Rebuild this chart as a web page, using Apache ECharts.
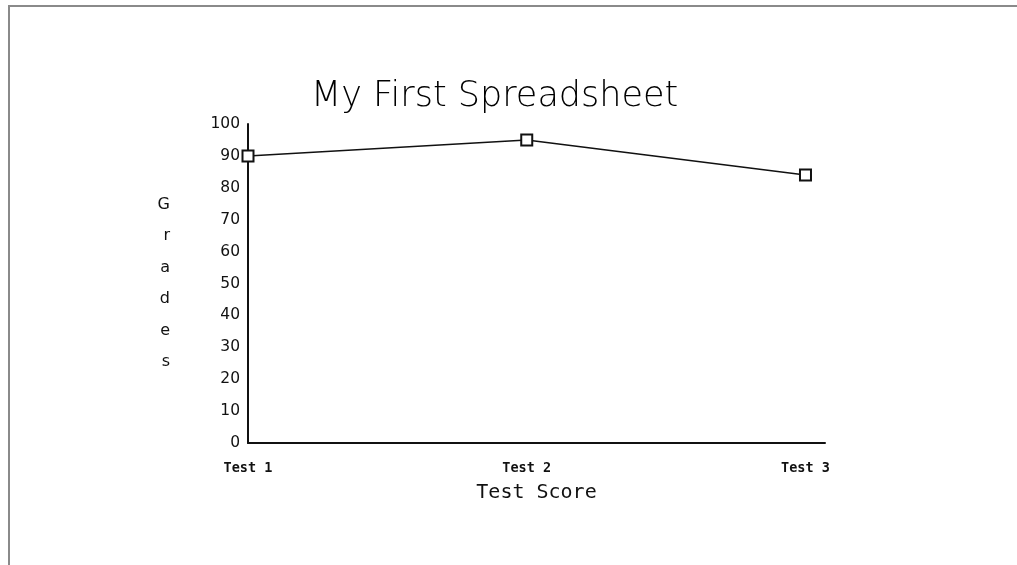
<!DOCTYPE html>
<html>
<head>
<meta charset="utf-8">
<script src="https://cdn.jsdelivr.net/npm/echarts@6/dist/echarts.min.js"></script>
<style>
  html, body { margin: 0; padding: 0; background: #fff; }
  #wrap { position: relative; width: 1017px; height: 565px; overflow: hidden; }
  #chart { position: absolute; left: 0; top: 0; width: 1017px; height: 565px; }
  #frame { position: absolute; left: 8px; top: 5px; right: -4px; bottom: -4px;
           border-top: 2px solid #8a8a8a; border-left: 2px solid #8a8a8a; pointer-events: none; }
</style>
</head>
<body>
<div id="wrap">
  <div id="chart"></div>
  <div id="frame"></div>
</div>
<script>
// Spreadsheet data
const categories = ['Test 1', 'Test 2', 'Test 3'];
const grades = [90, 95, 84];
const yTicks = [0, 10, 20, 30, 40, 50, 60, 70, 80, 90, 100];

const SANS = 'DejaVu Sans';
const MONO = 'DejaVu Sans Mono';
const points = grades.map((g, i) => [i, g]);

const chart = echarts.init(document.getElementById('chart'), null, { renderer: 'canvas' });
chart.setOption({
  animation: false,
  backgroundColor: '#ffffff',
  title: {
    text: 'My First Spreadsheet',
    left: 306,
    top: 74,
    textStyle: { fontFamily: SANS, fontSize: 35, fontWeight: 'lighter', color: '#000' }
  },
  grid: { left: 248, right: 192, top: 124, bottom: 122, containLabel: false },
  xAxis: {
    type: 'value',
    min: 0,
    max: 2.07,
    interval: 1,
    name: 'Test Score',
    nameLocation: 'middle',
    nameGap: 40,
    nameTextStyle: { fontFamily: MONO, fontSize: 20, color: '#111' },
    axisLine: { show: true, lineStyle: { color: '#111', width: 2 } },
    axisTick: { show: false },
    splitLine: { show: false },
    axisLabel: {
      margin: 18,
      fontFamily: MONO, fontSize: 13.5, fontWeight: 'bold', color: '#111',
      formatter: v => Number.isInteger(v) && categories[v] !== undefined ? categories[v] : ''
    }
  },
  yAxis: {
    type: 'value',
    min: yTicks[0],
    max: yTicks[yTicks.length - 1],
    interval: 10,
    name: 'Grades'.split('').join('\n'),
    nameLocation: 'middle',
    nameRotate: 0,
    nameGap: 78,
    nameTextStyle: { fontFamily: SANS, fontSize: 16, color: '#111', lineHeight: 31.5 },
    axisLine: { show: true, lineStyle: { color: '#111', width: 2 } },
    axisTick: { show: false },
    splitLine: { show: false },
    axisLabel: { margin: 8, fontFamily: SANS, fontSize: 15.5, color: '#111' }
  },
  series: [{
    type: 'line',
    data: points,
    symbol: 'rect',
    symbolSize: 11,
    showSymbol: true,
    lineStyle: { color: '#111', width: 1.5 },
    itemStyle: { color: '#fff', borderColor: '#111', borderWidth: 2 }
  }]
});
</script>
</body>
</html>
